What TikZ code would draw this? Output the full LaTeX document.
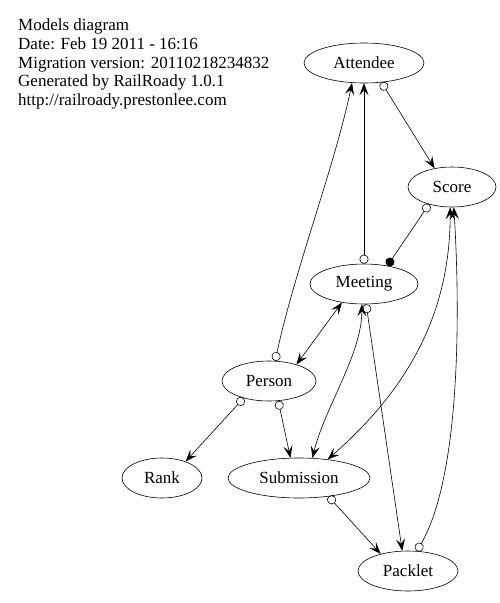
\documentclass[tikz,border=0pt]{standalone}
\usepackage{fontspec}
\setmainfont{Liberation Serif}
\usetikzlibrary{shapes.geometric,arrows.meta}

\begin{document}
\begin{tikzpicture}[x=1pt,y=-1pt]
	\tikzstyle{model} = [ellipse, draw, line width=0.6pt, inner sep=0pt, minimum height=40pt, font=\fontsize{17}{18}\selectfont]
	\tikzstyle{rel} = [line width=0.6pt]
	\tikzstyle{hasmany} = [rel, {Circle[open,length=9pt]}-{Stealth[length=12pt,width=9pt,inset=5pt]}]
	\tikzstyle{hasone} = [rel, {Circle[open,length=9pt]}-{Circle[length=9pt]}]
	\tikzstyle{habtm} = [rel, {Stealth[length=12pt,width=9pt,inset=5pt]}-{Stealth[length=12pt,width=9pt,inset=5pt]}]
	\useasboundingbox (0,0) rectangle (499,603);
	
	\node[anchor=north west, align=left, inner sep=0pt, font=\fontsize{17}{18.8}\selectfont] (title) at (18, 18.5) {Models diagram\\Date: Feb 19 2011 - 16:16\\Migration version: 20110218234832\\Generated by RailRoady 1.0.1\\http://railroady.prestonlee.com};
	
	\node[model, minimum width=120pt] (Attendee) at (364, 63) {Attendee};
	\node[model, minimum width=88pt] (Score) at (452, 187) {Score};
	\node[model, minimum width=108pt] (Meeting) at (364, 284) {Meeting};
	\node[model, minimum width=94pt] (Person) at (269, 381) {Person};
	\node[model, minimum width=80pt] (Rank) at (162, 478) {Rank};
	\node[model, minimum width=142pt] (Submission) at (299, 478) {Submission};
	\node[model, minimum width=100pt] (Packlet) at (408, 571) {Packlet};
	
	\draw[hasmany] (Attendee.-48) -- (Score.133);
	\draw[hasmany] (Meeting.north) -- (Attendee.south);
	\draw[hasmany] (Person.73) .. controls +(20,-92) and +(-17,82) .. (Attendee.-121);
	\draw[hasone] (Score.-143) -- (Meeting.38);
	
	\draw[habtm] (Person.31) -- (Meeting.-140);
	\draw[habtm] (Meeting.-96) .. controls +(0,50) and +(12,-50) .. (Submission.56);
	\draw[habtm] (Score.-95) .. controls +(0,106) and +(81,-71) .. (Submission.33);
	
	\draw[hasmany] (Meeting.-84) -- (Packlet.106);
	\draw[hasmany] (Submission.-32) -- (Packlet.148);
	\draw[hasmany] (Person.-146) -- (Rank.35);
	\draw[hasmany] (Person.-65) -- (Submission.113);
	\draw[hasmany] (Packlet.66) .. controls +(45,-78) and +(6,94) .. (Score.-85);
	
\end{tikzpicture}
\end{document}
